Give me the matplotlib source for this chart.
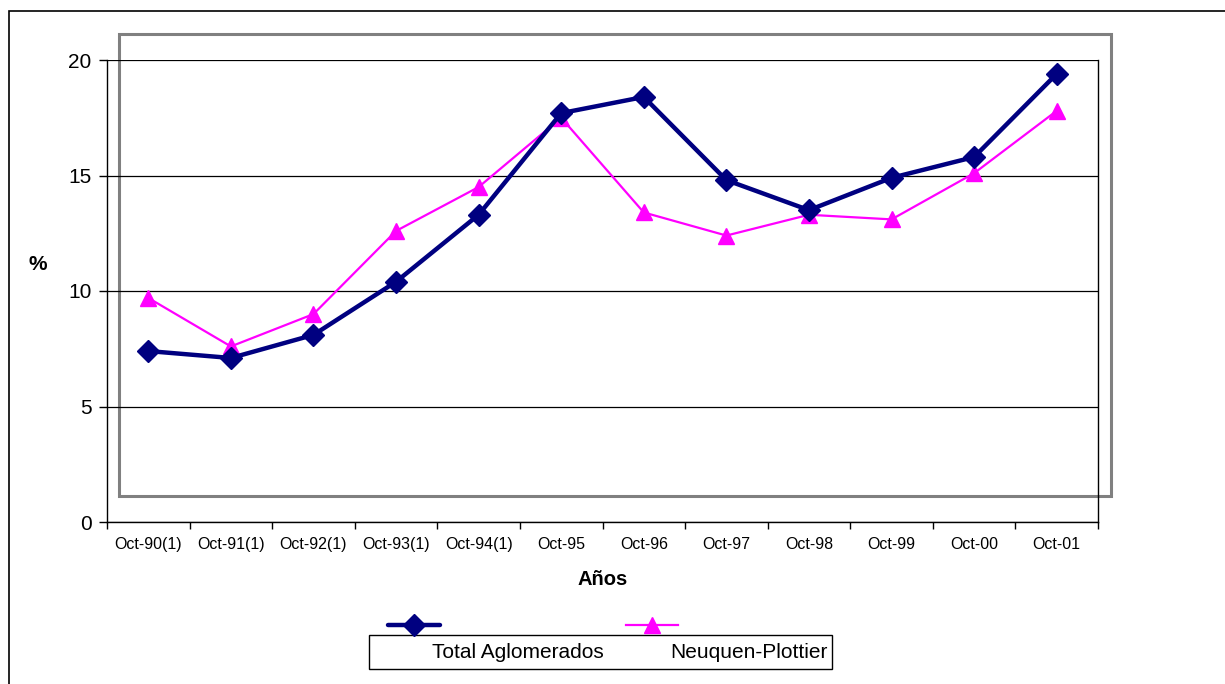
import matplotlib
matplotlib.use("Agg")
import matplotlib.pyplot as plt
from matplotlib.lines import Line2D
from matplotlib.patches import Rectangle

plt.rcParams['font.family'] = ['Liberation Sans', 'DejaVu Sans']

categories = ["Oct-90(1)", "Oct-91(1)", "Oct-92(1)", "Oct-93(1)", "Oct-94(1)",
              "Oct-95", "Oct-96", "Oct-97", "Oct-98", "Oct-99", "Oct-00", "Oct-01"]
total_aglomerados = [7.4, 7.1, 8.1, 10.4, 13.3, 17.7, 18.4, 14.8, 13.5, 14.9, 15.8, 19.4]
neuquen_plottier = [9.7, 7.6, 9.0, 12.6, 14.5, 17.5, 13.4, 12.4, 13.3, 13.1, 15.1, 17.8]
series_names = ["Total Aglomerados", "Neuquen-Plottier"]
y_ticks = [0, 5, 10, 15, 20]

W, H = 1225, 684
fig = plt.figure(figsize=(W / 100, H / 100), dpi=100)

# outer frame (extends past the right/bottom edges)
fig.add_artist(Rectangle((9 / W, -0.05), 1.2, 1 - 11 / H + 0.05, transform=fig.transFigure,
                         fill=False, edgecolor='black', linewidth=1.2))
# offset gray plot-area border
fig.add_artist(Rectangle((119 / W, 1 - 496 / H), (1111 - 119) / W, (496 - 34) / H,
                         transform=fig.transFigure, fill=False, edgecolor='#808080',
                         linewidth=2.2, zorder=0))

ax = fig.add_axes([107 / W, 1 - 522 / H, (1098 - 107) / W, (522 - 60) / H])
ax.patch.set_alpha(0)
x = list(range(len(categories)))

ax.plot(x, total_aglomerados, color='#000080', linewidth=3.2, marker='D',
        markersize=11.5, markeredgecolor='#000080', zorder=4, clip_on=False)
ax.plot(x, neuquen_plottier, color='#FF00FF', linewidth=1.6, marker='^',
        markersize=11, markeredgecolor='#FF00FF', zorder=3, clip_on=False)

ax.set_xlim(-0.5, len(categories) - 0.5)
ax.set_ylim(0, 20)
ax.set_yticks(y_ticks)
ax.set_yticklabels([str(v) for v in y_ticks], fontsize=15)
ax.yaxis.grid(True, color='black', linewidth=0.9)
ax.set_axisbelow(True)

ax.set_xticks([i - 0.5 for i in range(len(categories) + 1)])
ax.set_xticklabels([])
ax.set_xticks(x, minor=True)
ax.set_xticklabels(categories, minor=True, fontsize=11.5)
ax.tick_params(axis='x', which='major', length=5, width=1, direction='out')
ax.tick_params(axis='x', which='minor', length=0, pad=11)
ax.tick_params(axis='y', length=6, width=1, direction='out', pad=5)

for s in ax.spines.values():
    s.set_color('black')
    s.set_linewidth(1)
ax.spines['top'].set_visible(False)

ax.set_xlabel("Años", fontsize=14.5, fontweight='bold', labelpad=13)
fig.text(38 / W, 1 - 265 / H, "%", fontsize=15, fontweight='bold', ha='center', va='center')

# legend (handles sit above the box, as in the reference)
fig.add_artist(Rectangle((369 / W, 1 - 669 / H), (832 - 369) / W, (669 - 635) / H,
                         transform=fig.transFigure, fill=False, edgecolor='black', linewidth=1))
ly = 1 - 625 / H
fig.add_artist(Line2D([388 / W, 440 / W], [ly, ly], transform=fig.transFigure,
                      color='#000080', linewidth=3.2, solid_capstyle='round'))
fig.add_artist(Line2D([414 / W], [ly], transform=fig.transFigure, color='#000080',
                      marker='D', markersize=11.5, linestyle='none'))
fig.add_artist(Line2D([626 / W, 678 / W], [ly, ly], transform=fig.transFigure,
                      color='#FF00FF', linewidth=1.6))
fig.add_artist(Line2D([652 / W], [ly], transform=fig.transFigure, color='#FF00FF',
                      marker='^', markersize=11, linestyle='none'))
fig.text(432 / W, 1 - 652 / H, series_names[0], fontsize=15, ha='left', va='center')
fig.text(670 / W, 1 - 652 / H, series_names[1], fontsize=15, ha='left', va='center')

fig.savefig("out.png", dpi=100)
